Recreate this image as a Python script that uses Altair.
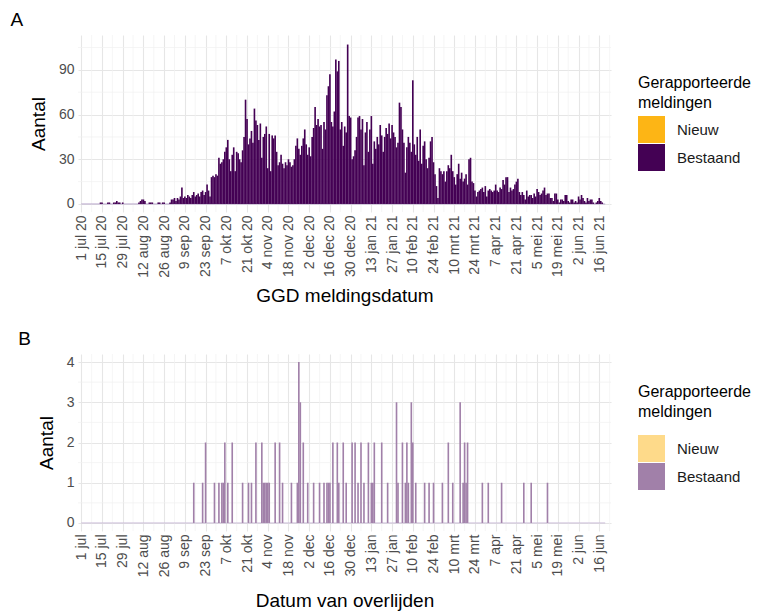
import altair as alt
import pandas as pd

# ---------------- Panel A: daily reports by GGD notification date ----------------
jul20 = [0,0,0,0,0,0,0,0,0,0,0,0,0,1,1,0,0,0,1,1,0,0,1,1,2,1,1,0,1,0,0]
aug20 = [0,0,0,0,0,0,0,0,1,2,3,3,2,0,0,1,1,1,0,0,0,1,1,0,1,1,0,0,0,1,3]
sep20 = [3,4,2,4,3,5,11,4,5,4,6,5,4,6,8,5,6,7,5,8,9,6,8,13,9,5,18,19,18,20]
oct20 = [19,31,27,28,30,35,38,43,30,22,33,38,22,35,34,30,28,36,45,70,57,40,44,49,41,64,56,53,43,54,31]
nov20 = [45,47,52,24,47,22,46,44,46,35,26,28,33,27,24,28,26,30,28,25,26,30,39,44,37,33,39,44,50,40]
dec20 = [33,38,32,45,51,65,53,57,52,53,37,55,50,73,79,87,55,52,62,97,89,96,50,55,39,52,48,107,59,58,30]
jan21 = [32,36,45,58,59,50,57,26,48,55,35,50,59,27,42,37,45,40,53,46,35,45,51,47,54,44,53,48,45,38,41]
feb21 = [68,65,50,41,21,38,45,41,35,83,40,33,45,29,50,27,39,42,30,24,31,42,45,28,20,12,4,24]
mar21 = [22,20,22,15,22,26,24,33,22,18,13,20,27,17,21,15,17,20,13,30,31,15,14,9,5,8,9,10,11,8,12]
apr21 = [5,9,10,9,8,9,13,9,8,11,10,16,13,18,18,8,11,9,10,13,15,17,8,6,8,6,3,9,5,6]
may21 = [6,4,7,5,10,8,6,7,9,11,6,7,7,4,4,2,7,7,3,1,3,3,2,6,6,2,1,3,3,1,2]
jun21 = [1,5,3,6,4,2,1,4,2,3,3,1,0,1,2,4,2,1,0,0]

# ---------------- Panel B: deaths by date of death ----------------
b_dates = ["2020-09-15","2020-09-21","2020-09-23","2020-09-29","2020-10-02","2020-10-04",
           "2020-10-05","2020-10-06","2020-10-08","2020-10-11","2020-10-18","2020-10-22",
           "2020-10-24","2020-10-27","2020-10-31","2020-11-01","2020-11-02","2020-11-03",
           "2020-11-04","2020-11-05","2020-11-09","2020-11-12","2020-11-14","2020-11-20",
           "2020-11-24","2020-11-25","2020-11-26","2020-11-28","2020-12-01","2020-12-05",
           "2020-12-09","2020-12-12","2020-12-14","2020-12-15","2020-12-16","2020-12-18",
           "2020-12-21","2020-12-22","2020-12-25","2020-12-27","2020-12-31","2021-01-02",
           "2021-01-04","2021-01-06","2021-01-08","2021-01-11","2021-01-13","2021-01-14",
           "2021-01-15","2021-01-20","2021-01-24","2021-01-30","2021-01-31","2021-02-03",
           "2021-02-05","2021-02-06","2021-02-07","2021-02-09","2021-02-10","2021-02-12",
           "2021-02-18","2021-02-21","2021-02-24","2021-03-02","2021-03-06","2021-03-09",
           "2021-03-14","2021-03-16","2021-03-17","2021-03-18","2021-03-19","2021-03-29",
           "2021-04-02","2021-04-11","2021-04-26","2021-05-01","2021-05-12"]
b_counts = [1,1,2,1,1,1,
            1,2,1,2,1,1,
            1,2,2,1,1,1,
            1,1,2,2,1,1,
            1,4,3,2,1,1,
            1,1,1,1,1,2,
            2,1,2,1,2,2,
            1,2,1,2,1,1,
            2,2,1,3,1,2,
            1,2,1,3,2,1,
            1,1,1,1,2,1,
            3,1,2,1,2,1,
            1,1,1,1,1]

categories = ["Nieuw", "Bestaand"]
colors_a = ["#FDB515", "#440154"]
colors_b = ["#FEDA8A", "#A180A9"]
months_nl = ["jan","feb","mrt","apr","mei","jun","jul","aug","sep","okt","nov","dec"]

DAY = 86400000
EPOCH = pd.Timestamp("1970-01-01")


def to_ms(ts):
    return int((pd.Timestamp(ts) - EPOCH) // pd.Timedelta("1ms"))


a_values = jul20 + aug20 + sep20 + oct20 + nov20 + dec20 + jan21 + feb21 + mar21 + apr21 + may21 + jun21
a_days = pd.date_range("2020-07-01", periods=len(a_values), freq="D")
df_a = pd.DataFrame({"t": [to_ms(d) for d in a_days], "n": a_values, "cat": "Bestaand"})

b_lookup = dict(zip(b_dates, b_counts))
df_b = pd.DataFrame({"t": [to_ms(d) for d in a_days],
                     "n": [b_lookup.get(d.strftime("%Y-%m-%d"), 0) for d in a_days],
                     "cat": "Bestaand"})

major_ticks = [to_ms(d) for d in pd.date_range("2020-07-01", periods=26, freq="14D")]
minor_ticks = [to_ms(d) for d in pd.date_range("2020-07-08", periods=26, freq="14D")]
x_domain = [to_ms("2020-06-28 19:00"), to_ms("2021-06-23 22:00")]

FONT = "Liberation Sans"
W, H = 533, 177
MONTHS_JS = "[" + ",".join("'%s'" % m for m in months_nl) + "]"


def panel(df, letter, colors, zero_color, y_domain, y_major, y_minor, xtitle, with_year,
          title_pad, legend_y, legend_title_pad):
    lab = "utcdate(datum.value) + ' ' + " + MONTHS_JS + "[utcmonth(datum.value)]"
    if with_year:
        lab += " + ' ' + utcFormat(datum.value, '%y')"
    xscale = alt.Scale(type="utc", domain=x_domain)
    yscale = alt.Scale(domain=y_domain, nice=False, zero=False)
    xaxis = alt.Axis(values=major_ticks, labelExpr=lab, labelAngle=270,
                     labelFontSize=14, labelColor="#4D4D4D", labelFont=FONT,
                     labelPadding=3, grid=True, gridColor="#E6E6E6", gridWidth=1.1,
                     ticks=False, domain=False, title=xtitle, titleFontSize=19,
                     titleFont=FONT, titleFontWeight="normal", titleColor="#000000",
                     titlePadding=title_pad, labelOverlap=False)
    yaxis = alt.Axis(values=y_major, labelFontSize=14, labelColor="#4D4D4D",
                     labelFont=FONT, labelPadding=4, grid=True, gridColor="#E6E6E6",
                     gridWidth=1.1, ticks=False, domain=False, title="Aantal",
                     titleFontSize=19, titleFont=FONT, titleFontWeight="normal",
                     titleColor="#000000", titlePadding=10)

    vminor = alt.Chart(pd.DataFrame({"x0": minor_ticks})).mark_rule(
        color="#F0F0F0", strokeWidth=0.7
    ).encode(x=alt.X("x0:T", scale=xscale, axis=xaxis), y=alt.value(0), y2=alt.value(H))

    hminor = alt.Chart(pd.DataFrame({"n": y_minor})).mark_rule(
        color="#F0F0F0", strokeWidth=0.7
    ).encode(y=alt.Y("n:Q", scale=yscale, axis=yaxis), x=alt.value(0), x2=alt.value(W))

    zero = alt.Chart(df).transform_aggregate(
        lo="min(t)", hi="max(t)"
    ).transform_calculate(n="0").mark_rule(color=zero_color, strokeWidth=1).encode(
        x=alt.X("lo:T", scale=xscale, axis=xaxis), x2="hi:T",
        y=alt.Y("n:Q", scale=yscale, axis=yaxis)
    )

    bars = alt.Chart(df).transform_filter("datum.n > 0").transform_calculate(
        x0="datum.t - 0.55*%d" % DAY, x1="datum.t + 0.55*%d" % DAY
    ).mark_bar(strokeWidth=0).encode(
        x=alt.X("x0:T", scale=xscale, axis=xaxis),
        x2="x1:T",
        y=alt.Y("n:Q", scale=yscale, axis=yaxis),
        y2=alt.datum(0),
        color=alt.Color("cat:N", scale=alt.Scale(domain=categories, range=colors),
                        legend=alt.Legend(title=["Gerapporteerde", "meldingen"],
                                          orient="none", legendX=560, legendY=legend_y,
                                          titleFontSize=16, titleFont=FONT,
                                          titleFontWeight="normal", titleColor="#000000",
                                          titleLineHeight=20, titlePadding=legend_title_pad,
                                          titleLimit=300,
                                          labelFontSize=15, labelFont=FONT, labelColor="#1A1A1A",
                                          labelOffset=12, symbolType="square", symbolSize=729,
                                          symbolStrokeWidth=0, symbolOpacity=1, rowPadding=1)),
    )

    return alt.layer(vminor, hminor, zero, bars).properties(
        width=W, height=H,
        title=alt.TitleParams(letter, anchor="start", frame="bounds", dx=-19, offset=5,
                              fontSize=19, fontWeight="normal", font=FONT, color="#000000"),
    )


pa = panel(df_a, "A", colors_a, "#B9A8CC", [-5.4, 113.4], [0, 30, 60, 90],
           [15, 45, 75, 105], "GGD meldingsdatum", True, 9, 40, 5)
pb = panel(df_b, "B", colors_b, "#CBBDD8", [-0.2, 4.2], [0, 1, 2, 3, 4],
           [0.5, 1.5, 2.5, 3.5], "Datum van overlijden", False, 15, 30, 15)

chart = alt.vconcat(pa, pb, spacing=23).resolve_scale(
    color="independent", x="independent", y="independent"
).configure(
    font=FONT, padding={"left": 2, "top": 2, "right": 0, "bottom": 0}
).configure_view(stroke=None)

chart.save("out.html", embed_options={"renderer": "svg", "actions": False})
